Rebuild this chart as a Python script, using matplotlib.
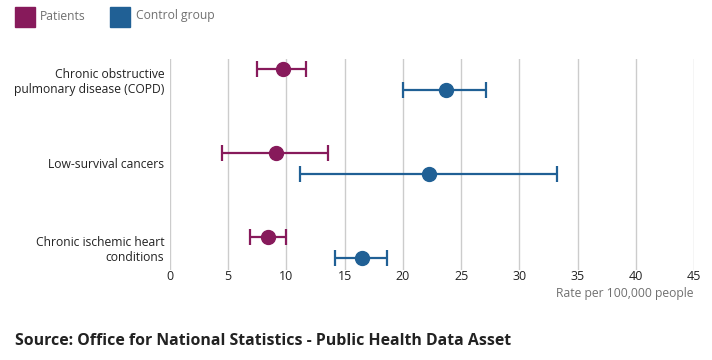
import matplotlib
matplotlib.use("Agg")
import matplotlib.pyplot as plt
from matplotlib.patches import Rectangle
import numpy as np

plt.rcParams['font.family'] = ['Open Sans', 'DejaVu Sans']

categories = ["Chronic obstructive\npulmonary disease (COPD)", "Low-survival cancers",
              "Chronic ischemic heart\nconditions"]
patients_val = [9.7, 9.1, 8.4]
patients_lo = [7.5, 4.5, 6.9]
patients_hi = [11.7, 13.6, 10.0]
control_val = [23.7, 22.2, 16.5]
control_lo = [20.0, 11.2, 14.2]
control_hi = [27.1, 33.2, 18.6]
xticks = [0, 5, 10, 15, 20, 25, 30, 35, 40, 45]

c_pat = "#871A5B"
c_ctl = "#206095"

W, H = 712, 360
fig = plt.figure(figsize=(W / 100, H / 100), dpi=100)
ax = fig.add_axes([170 / W, 1 - 270 / H, (694 - 170) / W, (270 - 59) / H])

y = np.arange(len(categories))
off = 0.125

def draw(vals, lo, hi, ys, col):
    vals = np.array(vals); lo = np.array(lo); hi = np.array(hi)
    ax.errorbar(vals, ys, xerr=[vals - lo, hi - vals], fmt='o', color=col,
                ecolor=col, elinewidth=1.6, capsize=6, capthick=1.6,
                markersize=10, zorder=3)

draw(patients_val, patients_lo, patients_hi, y - off, c_pat)
draw(control_val, control_lo, control_hi, y + off, c_ctl)

ax.set_xlim(0, 45)
ax.set_ylim(2 + 22.5 / 84, -20.5 / 84)
ax.set_xticks(xticks)
ax.set_xticklabels([str(t) for t in xticks], fontsize=9, color="#222222")
ax.set_yticks(y)
ax.set_yticklabels(categories, fontsize=8.7, color="#222222", linespacing=1.2)
ax.tick_params(axis='both', length=0)
ax.tick_params(axis='x', pad=0)
ax.tick_params(axis='y', pad=4)
for s in ax.spines.values():
    s.set_visible(False)
ax.grid(axis='x', color="#cccccc", linewidth=1)
ax.set_axisbelow(True)

fig.text(694 / W, 1 - 293 / H, "Rate per 100,000 people", ha='right', va='center',
         fontsize=8.7, color="#707070")

# legend
fig.patches.append(Rectangle((15 / W, 1 - 27 / H), 20 / W, 20 / H, transform=fig.transFigure,
                             color=c_pat))
fig.text(40 / W, 1 - 16 / H, "Patients", ha='left', va='center', fontsize=8.7, color="#707070")
fig.patches.append(Rectangle((110 / W, 1 - 27 / H), 20 / W, 20 / H, transform=fig.transFigure,
                             color=c_ctl))
fig.text(136 / W, 1 - 16 / H, "Control group", ha='left', va='center', fontsize=8.7, color="#707070")

fig.text(15 / W, 1 - 341 / H, "Source: Office for National Statistics - Public Health Data Asset",
         ha='left', va='center', fontsize=11.4, fontweight='bold', color="#222222")

fig.savefig("out.png", dpi=100)
